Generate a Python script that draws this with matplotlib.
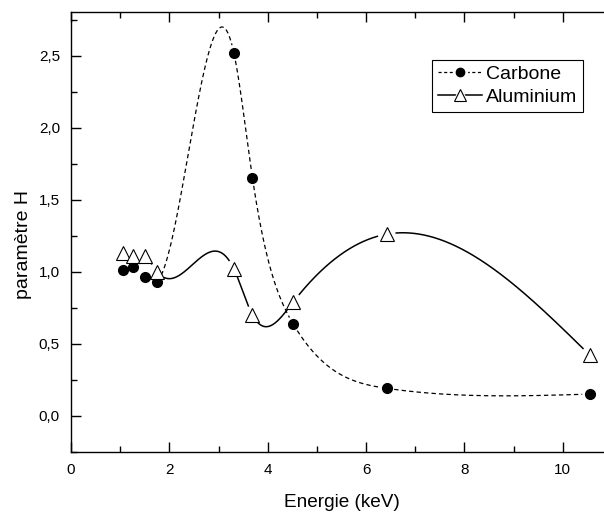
import numpy as np
import matplotlib.pyplot as plt
from matplotlib.lines import Line2D
from matplotlib.legend_handler import HandlerTuple
from matplotlib.ticker import MultipleLocator, FuncFormatter

plt.rcParams['font.family'] = ['Liberation Sans', 'DejaVu Sans']

energie = [1.05, 1.27, 1.50, 1.75, 3.31, 3.69, 4.52, 6.42, 10.55]
carbone = [1.01, 1.03, 0.96, 0.93, 2.52, 1.65, 0.635, 0.19, 0.15]
aluminium = [1.13, 1.11, 1.11, 1.00, 1.02, 0.70, 0.79, 1.26, 0.42]


def natural_spline(x, y, n=3000):
    # smooth connecting curve, like Origin's spline line
    x = np.asarray(x, float)
    y = np.asarray(y, float)
    h = np.diff(x)
    m = len(x)
    A = np.zeros((m, m))
    b = np.zeros(m)
    A[0, 0] = A[-1, -1] = 1
    for i in range(1, m - 1):
        A[i, i - 1] = h[i - 1]
        A[i, i] = 2 * (h[i - 1] + h[i])
        A[i, i + 1] = h[i]
        b[i] = 3 * ((y[i + 1] - y[i]) / h[i] - (y[i] - y[i - 1]) / h[i - 1])
    c = np.linalg.solve(A, b)
    xs = np.linspace(x[0], x[-1], n)
    k = np.clip(np.searchsorted(x, xs) - 1, 0, m - 2)
    dx = xs - x[k]
    bb = (y[1:] - y[:-1]) / h - h * (2 * c[:-1] + c[1:]) / 3
    d = (c[1:] - c[:-1]) / (3 * h)
    ys = y[k] + bb[k] * dx + c[k] * dx ** 2 + d[k] * dx ** 3
    return xs, ys


def with_gaps(ax, xs, ys, px, py, r):
    # cut the line around its own markers (in pixels)
    pts = ax.transData.transform(np.column_stack([xs, ys]))
    mk = ax.transData.transform(np.column_stack([px, py]))
    ys = ys.copy()
    for p in mk:
        ys[np.hypot(*(pts - p).T) < r] = np.nan
    return ys


fig = plt.figure(figsize=(6.04, 5.12), dpi=100)
ax = fig.add_axes([71 / 604, 60 / 512, 541 / 604, 439.7 / 512])
ax.set_xlim(0, 11)
ax.set_ylim(-0.252, 2.80)

xs, ys = natural_spline(energie, carbone)
ax.plot(xs, with_gaps(ax, xs, ys, energie, carbone, 7.5), color='black',
        lw=0.9, dashes=(3.5, 2.5))
xs, ys = natural_spline(energie, aluminium)
ax.plot(xs, with_gaps(ax, xs, ys, energie, aluminium, 9.5), color='black',
        lw=1.1)

ax.plot(energie, carbone, 'o', ms=7, color='black', ls='none')
ax.plot(energie, aluminium, '^', ms=10, mfc='white', mec='black', mew=0.8,
        ls='none')

ax.xaxis.set_major_locator(MultipleLocator(2))
ax.xaxis.set_minor_locator(MultipleLocator(1))
ax.yaxis.set_major_locator(MultipleLocator(0.5))
ax.yaxis.set_minor_locator(MultipleLocator(0.25))
ax.yaxis.set_major_formatter(FuncFormatter(lambda v, p: f'{v:.1f}'.replace('.', ',')))
ax.tick_params(which='both', direction='in', top=True, right=False,
               labelsize=11, width=1, pad=8)
ax.tick_params(which='major', length=7)
ax.tick_params(which='minor', length=4)
for s in ax.spines.values():
    s.set_linewidth(1)

ax.set_xlabel('Energie (keV)', fontsize=13.7, labelpad=12)
ax.set_ylabel('paramètre H', fontsize=14)
ax.yaxis.set_label_coords(-0.072, 0.471)

# legend handles: line, white patch for the gap, marker on top
carb_h = (Line2D([], [], color='black', lw=0.9, dashes=(2.5, 2)),
          Line2D([], [], ls='none', marker='o', ms=10, color='white'),
          Line2D([], [], ls='none', marker='o', ms=6, color='black'))
alu_h = (Line2D([], [], color='black', lw=1.1),
         Line2D([], [], ls='none', marker='^', ms=12, color='white'),
         Line2D([], [], ls='none', marker='^', ms=9, mfc='white',
                mec='black', mew=0.8))
leg = ax.legend([carb_h, alu_h], ['Carbone', 'Aluminium'], loc='upper left',
                handler_map={tuple: HandlerTuple(ndivide=1)},
                bbox_to_anchor=(0.667, 0.892), borderaxespad=0, fontsize=14,
                handlelength=2.3, handletextpad=0.2, labelspacing=0.25,
                borderpad=0.3, fancybox=False, framealpha=1,
                edgecolor='black')
leg.get_frame().set_linewidth(0.8)

fig.savefig('out.png', dpi=100)
